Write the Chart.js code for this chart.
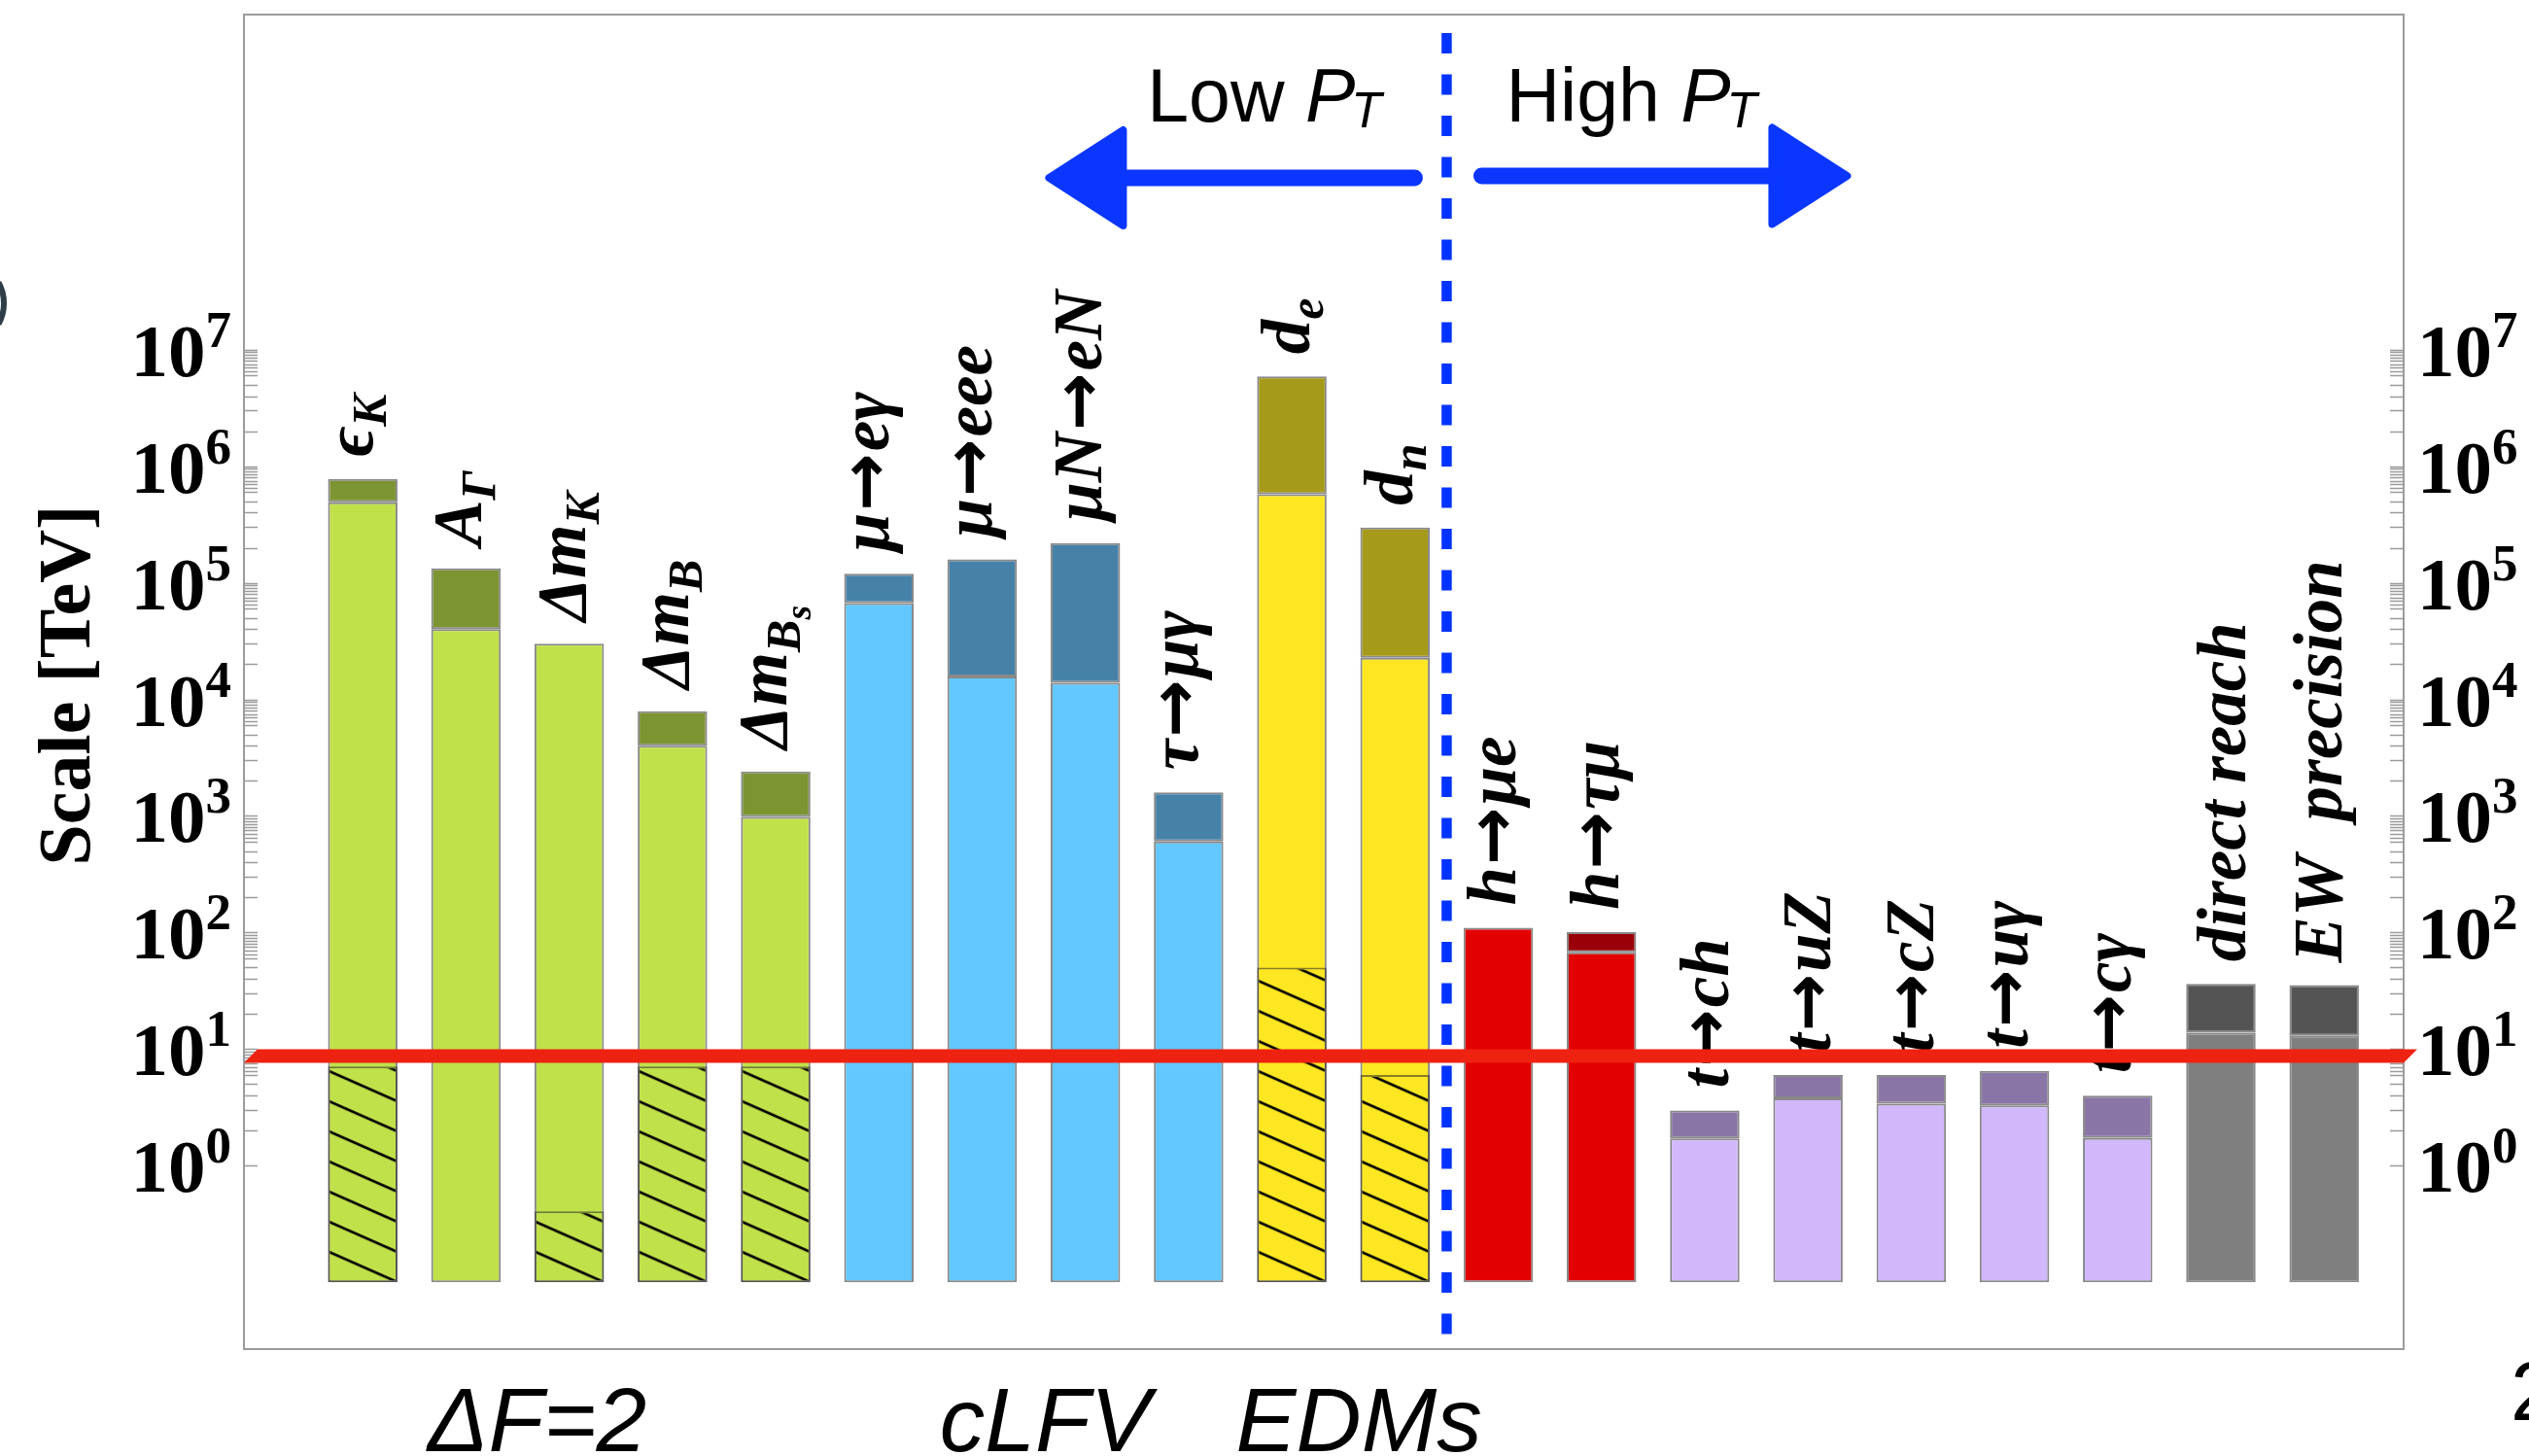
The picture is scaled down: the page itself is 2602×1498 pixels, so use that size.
<!DOCTYPE html>
<html>
<head>
<meta charset="utf-8">
<script src="https://cdn.jsdelivr.net/npm/chart.js@4"></script>
<style>
  html, body { margin: 0; padding: 0; background: #fff; }
  #wrap { width: 2602px; height: 1498px; position: relative; }
</style>
</head>
<body>
<div id="wrap"><canvas id="reach"></canvas></div>
<script>
// observables, bottom to top of each bar (values in TeV)
const labels = ['ϵ_K', 'A_Γ', 'Δm_K', 'Δm_B', 'Δm_B_s', 'μ→eγ', 'μ→eee', 'μN→eN', 'τ→μγ',
  'd_e', 'd_n', 'h→μe', 'h→τμ', 't→ch', 't→uZ', 't→cZ', 't→uγ', 't→cγ', 'direct reach', 'EW  precision'];
const groups = ['df2', 'df2', 'df2', 'df2', 'df2', 'lfv', 'lfv', 'lfv', 'lfv', 'edm', 'edm',
  'higgs', 'higgs', 'top', 'top', 'top', 'top', 'top', 'ew', 'ew'];
const barBase = 0.1;
const lightTop = [4.9e5, 4.0e4, 3.0e4, 4.0e3, 980, 6.7e4, 1.57e4, 1.39e4, 605,
  5.75e5, 2.27e4, 110, 67.5, 1.71, 3.78, 3.40, 3.29, 1.73, 13.8, 13.0];
const capTop = [7.8e5, 1.33e5, null, 7.9e3, 2.41e3, 1.2e5, 1.59e5, 2.19e5, 1.59e3,
  5.9e6, 2.98e5, null, 101, 2.97, 5.98, 5.98, 6.49, 3.98, 36.3, 35.4];
const hatchTop = [7.1, null, 0.405, 7.1, 7.1, null, null, null, null,
  50, 6.0, null, null, null, null, null, null, null, null, null];
const redLine = 8.7;
const splitAt = 11.5;
const decades = [0, 1, 2, 3, 4, 5, 6, 7];
const minorSteps = [2, 3, 4, 5, 6, 6.5, 7, 7.5, 8, 8.5, 9, 9.5];
const groupNames = ['ΔF=2', 'cLFV', 'EDMs'];
const groupAt = [2.69, 7.61, 10.65];

const palette = {
  df2:   { light: '#c1e14b', dark: '#7d9432' },
  lfv:   { light: '#62c8ff', dark: '#4682a8' },
  edm:   { light: '#fde722', dark: '#a69a1a' },
  higgs: { light: '#e30000', dark: '#990008' },
  top:   { light: '#d1b8fb', dark: '#8a76a6' },
  ew:    { light: '#7f7f7f', dark: '#545454' }
};
const edge = 'rgba(40,40,40,0.55)';
const barPct = 0.673;

const lightData = lightTop.map((v, i) => ({ x: i + 1, y: [barBase, v] }));
const capData = [];
capTop.forEach((v, i) => { if (v !== null) capData.push({ x: i + 1, y: [lightTop[i], v] }); });
const hatchData = [];
hatchTop.forEach((v, i) => { if (v !== null) hatchData.push({ x: i + 1, y: [barBase, v] }); });

function hatchPattern(chart, raw) {
  const base = palette[groups[raw.x - 1]].light;
  const tile = document.createElement('canvas');
  tile.width = 70; tile.height = 31;
  const t = tile.getContext('2d');
  t.fillStyle = base;
  t.fillRect(0, 0, 70, 31);
  t.strokeStyle = '#000';
  t.lineWidth = 2.6;
  for (const k of [-1, 0, 1]) {
    t.beginPath();
    t.moveTo(-10, k * 31 - 10 * 31 / 70);
    t.lineTo(80, k * 31 + 80 * 31 / 70);
    t.stroke();
  }
  const p = chart.ctx.createPattern(tile, 'repeat');
  const xs = chart.scales.x, ys = chart.scales.y;
  const half = (xs.getPixelForValue(1) - xs.getPixelForValue(0)) * barPct / 2;
  const rx = xs.getPixelForValue(raw.x) + half;
  const by = ys.getPixelForValue(barBase);
  p.setTransform(new DOMMatrix([1, 0, 0, 1, rx, by]));
  return p;
}

function drawPow(ctx, k, x, y, align) {
  const fb = 'bold 77px "Liberation Serif", serif';
  const fs = 'bold 53px "Liberation Serif", serif';
  ctx.font = fb;
  const wb = ctx.measureText('10').width;
  ctx.font = fs;
  const ws = ctx.measureText(String(k)).width;
  const x0 = align === 'right' ? x - wb - ws : x;
  ctx.textAlign = 'left';
  ctx.textBaseline = 'alphabetic';
  ctx.fillStyle = '#000';
  ctx.font = fb;
  ctx.fillText('10', x0, y + 27);
  ctx.font = fs;
  ctx.fillText(String(k), x0 + wb, y - 3);
}

// split "μ→eγ_x" into runs; the arrow gets a heavier sans glyph
function labelRuns(str) {
  const sizes = [71, 50, 38];
  const offs = [0, 14, 25];
  const runs = [];
  str.split('_').forEach((part, lvl) => {
    part.split(/(→)/).forEach(t => {
      if (!t) return;
      const font = t === '→'
        ? 'bold ' + sizes[lvl] + 'px "DejaVu Sans", sans-serif'
        : 'bold italic ' + sizes[lvl] + 'px "Liberation Serif", "DejaVu Serif", serif';
      runs.push({ t, font, off: offs[lvl], pad: t === '→' ? 2 : 0 });
    });
  });
  return runs;
}

function drawLabel(ctx, str, cx, yStart) {
  const runs = labelRuns(str);
  let w = 0, top = 0, bot = 0;
  runs.forEach(r => {
    ctx.font = r.font;
    const m = ctx.measureText(r.t);
    r.x = w + r.pad;
    w += m.width + 2 * r.pad;
    if (r.t !== '→') {
      top = Math.max(top, m.actualBoundingBoxAscent - r.off);
      bot = Math.max(bot, m.actualBoundingBoxDescent + r.off);
    }
  });
  ctx.save();
  ctx.translate(cx, yStart);
  ctx.rotate(-Math.PI / 2);
  ctx.textAlign = 'left';
  ctx.textBaseline = 'alphabetic';
  ctx.fillStyle = '#000';
  const b = (top - bot) / 2;
  runs.forEach(r => { ctx.font = r.font; ctx.fillText(r.t, r.x, b + r.off); });
  ctx.restore();
}

function drawArrow(ctx, shaftFrom, shaftTo, back, tip, yc, half) {
  ctx.save();
  ctx.strokeStyle = '#0a36ff';
  ctx.fillStyle = '#0a36ff';
  ctx.lineCap = 'round';
  ctx.lineWidth = 17;
  ctx.beginPath();
  ctx.moveTo(shaftFrom, yc);
  ctx.lineTo(shaftTo, yc);
  ctx.stroke();
  ctx.lineJoin = 'round';
  ctx.lineWidth = 8;
  ctx.beginPath();
  ctx.moveTo(tip, yc);
  ctx.lineTo(back, yc - half);
  ctx.lineTo(back, yc + half);
  ctx.closePath();
  ctx.fill();
  ctx.stroke();
  ctx.restore();
}

function drawPt(ctx, word, x, base) {
  const f = '77px "Liberation Sans", Arial, sans-serif';
  const fi = 'italic 77px "Liberation Sans", Arial, sans-serif';
  const fsub = 'italic 51px "Liberation Sans", Arial, sans-serif';
  ctx.textAlign = 'left';
  ctx.textBaseline = 'alphabetic';
  ctx.fillStyle = '#000';
  ctx.font = f;
  ctx.fillText(word + ' ', x, base);
  let cx = x + ctx.measureText(word + ' ').width;
  ctx.font = fi;
  ctx.fillText('P', cx, base);
  cx += ctx.measureText('P').width - 4;
  ctx.font = fsub;
  ctx.fillText('T', cx, base + 6);
  return cx + ctx.measureText('T').width - x;
}

const decor = {
  id: 'decor',
  beforeDatasetsDraw(chart) {
    const ctx = chart.ctx, a = chart.chartArea, ys = chart.scales.y;
    ctx.save();
    ctx.strokeStyle = '#9b9b9b';
    ctx.lineWidth = 2;
    ctx.strokeRect(a.left, a.top, a.right - a.left, a.bottom - a.top);
    ctx.lineWidth = 1.6;
    ctx.beginPath();
    decades.forEach(k => {
      const vals = [Math.pow(10, k)];
      if (k < 7) minorSteps.forEach(m => vals.push(m * Math.pow(10, k)));
      vals.forEach(v => {
        const y = Math.round(ys.getPixelForValue(v)) + 0.5;
        ctx.moveTo(a.left, y); ctx.lineTo(a.left + 14, y);
        ctx.moveTo(a.right - 14, y); ctx.lineTo(a.right, y);
      });
    });
    ctx.stroke();
    decades.forEach(k => {
      const y = ys.getPixelForValue(Math.pow(10, k));
      drawPow(ctx, k, a.left - 13, y, 'right');
      drawPow(ctx, k, a.right + 14, y, 'left');
    });
    // axis title
    ctx.save();
    ctx.translate(72, 705);
    ctx.rotate(-Math.PI / 2);
    ctx.font = 'bold 76px "Liberation Serif", serif';
    ctx.textAlign = 'center';
    ctx.textBaseline = 'middle';
    ctx.fillStyle = '#000';
    ctx.fillText('Scale [TeV]', 0, 0);
    ctx.restore();
    ctx.restore();
  },
  afterDatasetsDraw(chart) {
    const ctx = chart.ctx, a = chart.chartArea, xs = chart.scales.x, ys = chart.scales.y;
    ctx.save();
    // labels above each bar
    labels.forEach((lab, i) => {
      const top = capTop[i] !== null ? capTop[i] : lightTop[i];
      drawLabel(ctx, lab, xs.getPixelForValue(i + 1), ys.getPixelForValue(top) - 23);
    });
    // red reference line
    const yr = ys.getPixelForValue(redLine);
    ctx.fillStyle = '#ee2211';
    ctx.beginPath();
    ctx.moveTo(a.left, yr + 7);
    ctx.lineTo(a.left + 14, yr - 7);
    ctx.lineTo(a.right + 14, yr - 7);
    ctx.lineTo(a.right, yr + 7);
    ctx.closePath();
    ctx.fill();
    // low / high pT divider
    const xd = xs.getPixelForValue(splitAt);
    ctx.strokeStyle = '#0033ff';
    ctx.lineWidth = 10.5;
    ctx.setLineDash([21, 21.5]);
    ctx.beginPath();
    ctx.moveTo(xd, a.top + 19);
    ctx.lineTo(xd, a.bottom - 10);
    ctx.stroke();
    ctx.setLineDash([]);
    drawArrow(ctx, xd - 33, xd - 333, xd - 333, xd - 409, a.top + 168, 49);
    drawArrow(ctx, xd + 36, xd + 335, xd + 335, xd + 412, a.top + 166, 49.5);
    // measure then place "Low PT" so it ends near the divider
    ctx.save();
    ctx.globalAlpha = 0;
    const wLow = drawPt(ctx, 'Low', 0, -500);
    ctx.restore();
    drawPt(ctx, 'Low', xd - 67 - wLow, a.top + 110);
    drawPt(ctx, 'High', xd + 61, a.top + 110);
    // group names below the frame
    ctx.font = 'italic 93px "Liberation Sans", Arial, sans-serif';
    ctx.textAlign = 'center';
    ctx.textBaseline = 'alphabetic';
    ctx.fillStyle = '#000';
    groupNames.forEach((g, i) => {
      ctx.fillText(g, xs.getPixelForValue(groupAt[i]), a.bottom + 105);
    });
    ctx.restore();
  },
  afterDraw(chart) {
    const ctx = chart.ctx;
    ctx.save();
    // bits of the surrounding page
    ctx.strokeStyle = '#2f3d48';
    ctx.lineWidth = 6;
    ctx.beginPath();
    ctx.ellipse(-28, 312, 32, 38, 0, -0.6, 0.6);
    ctx.stroke();
    ctx.fillStyle = '#000';
    ctx.font = '85px "Liberation Sans", Arial, sans-serif';
    ctx.textAlign = 'left';
    ctx.textBaseline = 'alphabetic';
    ctx.fillText('2', 2583, 1461);
    ctx.restore();
  }
};

new Chart(document.getElementById('reach'), {
  type: 'bar',
  data: {
    datasets: [
      {
        label: 'bound',
        data: lightData,
        order: 3,
        grouped: false,
        backgroundColor: lightTop.map((v, i) => palette[groups[i]].light),
        borderColor: edge,
        borderWidth: 2,
        borderSkipped: false
      },
      {
        label: 'future',
        data: capData,
        order: 2,
        grouped: false,
        backgroundColor: capData.map(d => palette[groups[d.x - 1]].dark),
        borderColor: edge,
        borderWidth: 2,
        borderSkipped: false
      },
      {
        label: 'hatched',
        data: hatchData,
        order: 1,
        grouped: false,
        backgroundColor: c => c.raw ? hatchPattern(c.chart, c.raw) : 'transparent',
        borderColor: edge,
        borderWidth: 2,
        borderSkipped: false
      }
    ]
  },
  options: {
    responsive: true,
    maintainAspectRatio: false,
    animation: false,
    devicePixelRatio: 1,
    barPercentage: barPct,
    categoryPercentage: 1,
    layout: { padding: { left: 251, right: 129, top: 15, bottom: 110 } },
    plugins: { legend: { display: false }, tooltip: { enabled: false } },
    scales: {
      x: {
        type: 'linear',
        offset: false,
        min: -0.1507,
        max: 20.77,
        display: false,
        grid: { offset: false },
        ticks: { stepSize: 1, includeBounds: false }
      },
      y: {
        type: 'logarithmic',
        min: Math.pow(10, -1.574),
        max: Math.pow(10, 9.875),
        display: false
      }
    }
  },
  plugins: [decor]
});
</script>
</body>
</html>
